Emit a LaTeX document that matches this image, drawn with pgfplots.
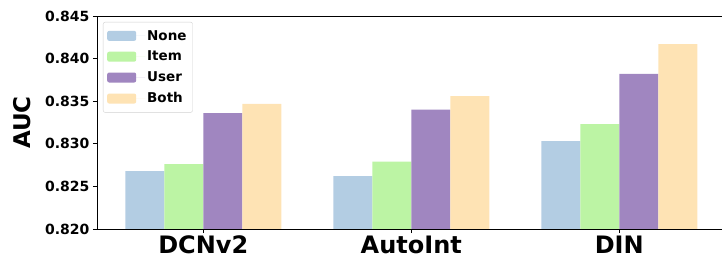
\documentclass[border=0pt]{standalone}
\usepackage{fontspec}
\setmainfont{DejaVu Sans}
\usepackage{pgfplots}
\pgfplotsset{compat=1.18}
\definecolor{cNone}{RGB}{179,205,227}
\definecolor{cItem}{RGB}{188,244,164}
\definecolor{cUser}{RGB}{160,134,192}
\definecolor{cBoth}{RGB}{254,227,180}
\begin{document}
\begin{tikzpicture}
\begin{axis}[
  scale only axis, width=625pt, height=213pt,
  xmin=-0.511, xmax=2.494, ymin=0.820, ymax=0.845,
  axis x line*=box, axis y line*=left,
  axis line style={black, line width=0.9pt},
  tick pos=left, tick align=outside, major tick length=4pt,
  tick style={black, line width=0.8pt},
  xtick={0,1,2}, xticklabels={DCNv2,AutoInt,DIN},
  ytick={0.820,0.825,0.830,0.835,0.840,0.845},
  /pgf/number format/assume math mode=true,
  yticklabel style={/pgf/number format/fixed, /pgf/number format/fixed zerofill, /pgf/number format/precision=3, font=\bfseries\fontsize{14}{16}\selectfont},
  xticklabel style={font=\bfseries\fontsize{24}{26}\selectfont, yshift=1pt},
  ylabel={AUC},
  ylabel style={at={(axis description cs:-0.12,0.5)}, anchor=center, font=\bfseries\fontsize{23}{26}\selectfont},
  axis on top,
  legend style={at={(axis description cs:0.0096,0.972)}, anchor=north west, draw=black!18, rounded corners=2pt, font=\bfseries\fontsize{13.5}{15}\selectfont, row sep=5.5pt, inner xsep=4pt, inner ysep=6pt},
  legend cell align=left,
  legend image code/.code={\fill[#1,draw=none] (0pt,-5pt) rectangle (29pt,5pt); \path (0pt,0pt) -- (38pt,0pt);},
]
\addplot[ybar, bar width=0.1875, bar shift=-0.28125, fill=cNone, draw=none] coordinates {(0,0.8268) (1,0.8262) (2,0.8303)};
\addplot[ybar, bar width=0.1875, bar shift=-0.09375, fill=cItem, draw=none] coordinates {(0,0.8276) (1,0.8279) (2,0.8323)};
\addplot[ybar, bar width=0.1875, bar shift=0.09375, fill=cUser, draw=none] coordinates {(0,0.8336) (1,0.8340) (2,0.8382)};
\addplot[ybar, bar width=0.1875, bar shift=0.28125, fill=cBoth, draw=none] coordinates {(0,0.8347) (1,0.8356) (2,0.8417)};
\legend{None,Item,User,Both}
\end{axis}
\pgfresetboundingbox
\useasboundingbox ([xshift=-97pt,yshift=-28pt]current axis.south west) rectangle ([yshift=16pt]current axis.north east);
\end{tikzpicture}
\end{document}
